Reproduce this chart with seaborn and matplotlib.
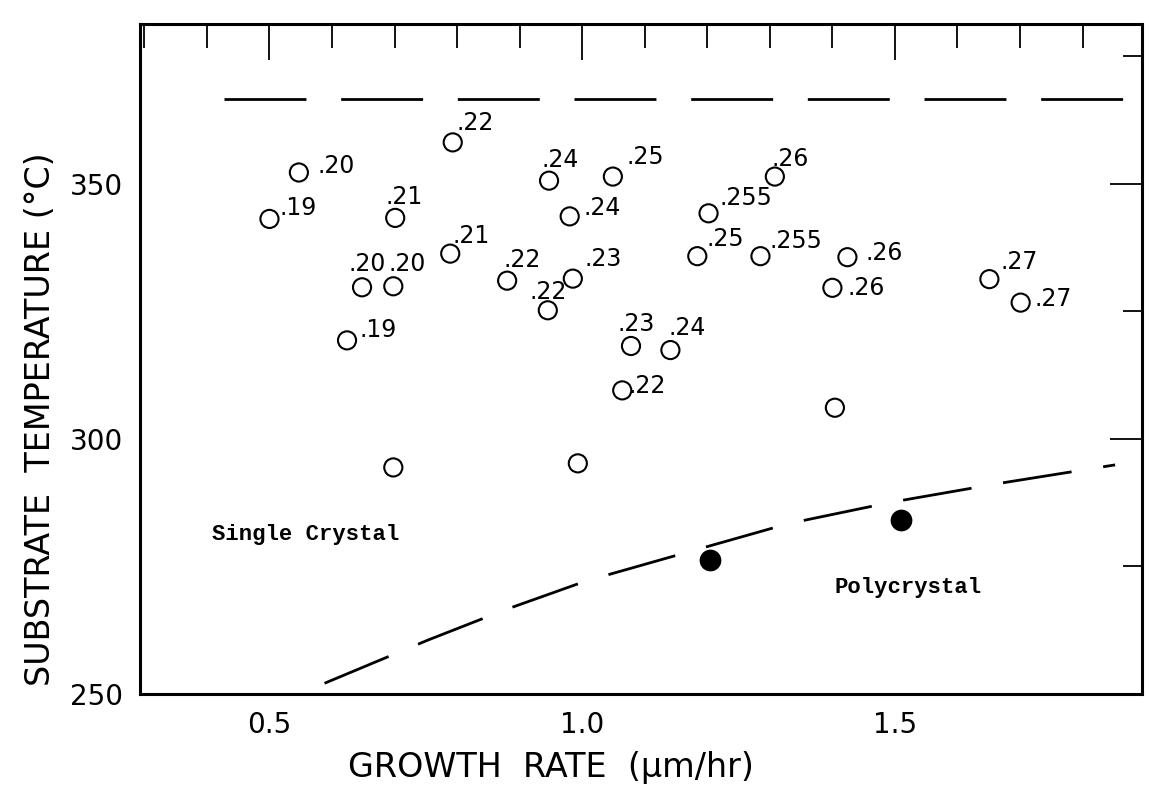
import pandas as pd
import matplotlib
matplotlib.use("Agg")
import matplotlib.pyplot as plt
import matplotlib.ticker as mtick
import seaborn as sns

# single crystal runs (open circles): growth rate, substrate temperature, note
growth_rate = [0.500, 0.547, 0.701, 0.793, 0.648, 0.698, 0.789, 0.624, 0.698,
               0.880, 0.945, 0.985, 0.947, 0.980, 1.049, 0.993, 1.078, 1.141,
               1.064, 1.202, 1.184, 1.285, 1.308, 1.424, 1.400, 1.404, 1.651,
               1.701]
temperature = [343.1, 352.2, 343.3, 358.1, 329.7, 329.9, 336.3, 319.3, 294.4,
               331.0, 325.2, 331.4, 350.6, 343.6, 351.4, 295.2, 318.2, 317.4,
               309.5, 344.2, 335.8, 335.8, 351.4, 335.6, 329.6, 306.1, 331.3,
               326.7]
notes = ['.19', '.20', '.21', '.22', '.20', '.20', '.21', '.19', '',
         '.22', '.22', '.23', '.24', '.24', '.25', '', '.23', '.24',
         '.22', '.255', '.25', '.255', '.26', '.26', '.26', '', '.27',
         '.27']

# polycrystal runs (filled circles)
poly_rate = [1.204, 1.510]
poly_temp = [276.3, 284.1]

# boundary lines
upper_x = [0.427, 1.870]
upper_y = [366.7, 366.7]
lower_x = [0.588, 0.754, 0.879, 1.005, 1.160, 1.330, 1.495, 1.668, 1.852]
lower_y = [252.1, 260.6, 266.6, 272.1, 277.5, 283.4, 287.6, 291.3, 294.9]

# where each note sits relative to its circle (pixels, x right / y up)
note_offsets = [(29, 11), (37, 6), (9, 21), (22, 19), (5, 23), (14, 22),
                (21, 18), (31, 10), (0, 0), (15, 21), (0, 18), (30, 20),
                (11, 21), (32, 8), (32, 20), (0, 0), (5, 22), (17, 22),
                (25, 4), (37, 15), (28, 17), (35, 15), (15, 18), (37, 4),
                (34, 0), (0, 0), (30, 17), (33, 4)]

sns.set_style("white")
plt.rcParams['font.family'] = ['DejaVu Sans']
plt.rcParams['text.color'] = 'black'

fig = plt.figure(figsize=(11.49, 7.86), dpi=100)
ax = fig.add_axes([140 / 1149, 1 - 694 / 786, 1002 / 1149, 670 / 786])

single = pd.DataFrame({'rate': growth_rate, 'temp': temperature, 'note': notes})
poly = pd.DataFrame({'rate': poly_rate, 'temp': poly_temp})

lw = 2.0
sns.lineplot(x=upper_x, y=upper_y, ax=ax, color='black', linewidth=lw,
             linestyle=(0, (59 / lw, 25 / lw)))
sns.lineplot(x=lower_x, y=lower_y, ax=ax, color='black', linewidth=lw,
             linestyle=(0, (50 / lw, 23 / lw)))

sns.scatterplot(data=single, x='rate', y='temp', ax=ax, marker='o', s=170,
                facecolor='none', edgecolor='black', linewidth=1.5)
sns.scatterplot(data=poly, x='rate', y='temp', ax=ax, marker='o', s=210,
                color='black', edgecolor='black')

for (_, row), (dx, dy) in zip(single.iterrows(), note_offsets):
    if row['note']:
        ax.annotate(row['note'], (row['rate'], row['temp']),
                    xytext=(dx, dy), textcoords='offset pixels',
                    ha='center', va='center', fontsize=17, color='black')

ax.text(0.408, 281.2, 'Single Crystal', family='Liberation Mono',
        fontweight='bold', fontsize=16, va='center', ha='left', color='black')
ax.text(1.403, 270.8, 'Polycrystal', family='Liberation Mono',
        fontweight='bold', fontsize=16, va='center', ha='left', color='black')

ax.set_xlim(0.293, 1.895)
ax.set_ylim(250, 381.3)
ax.xaxis.set_major_locator(mtick.FixedLocator([0.5, 1.0, 1.5]))
ax.xaxis.set_minor_locator(mtick.MultipleLocator(0.1))
ax.xaxis.set_major_formatter(mtick.FormatStrFormatter('%.1f'))
ax.yaxis.set_major_locator(mtick.MultipleLocator(50))
ax.yaxis.set_minor_locator(mtick.MultipleLocator(25))

ax.tick_params(which='both', direction='in', top=True, right=True,
               width=1.3, colors='black', labelsize=20)
ax.tick_params(axis='x', which='major', length=26, pad=12)
ax.tick_params(axis='x', which='minor', length=17)
ax.tick_params(axis='y', which='major', length=23, pad=12)
ax.tick_params(axis='y', which='minor', length=14)
for sp in ax.spines.values():
    sp.set_linewidth(2.2)
    sp.set_color('black')

ax.set_xlabel('GROWTH  RATE  (μm/hr)', fontsize=24, color='black')
ax.set_ylabel('SUBSTRATE  TEMPERATURE (°C)', fontsize=24, color='black')
ax.xaxis.set_label_coords(0.41, -0.085)
ax.yaxis.set_label_coords(-0.083, 0.41)

fig.savefig('out.png', dpi=100)
